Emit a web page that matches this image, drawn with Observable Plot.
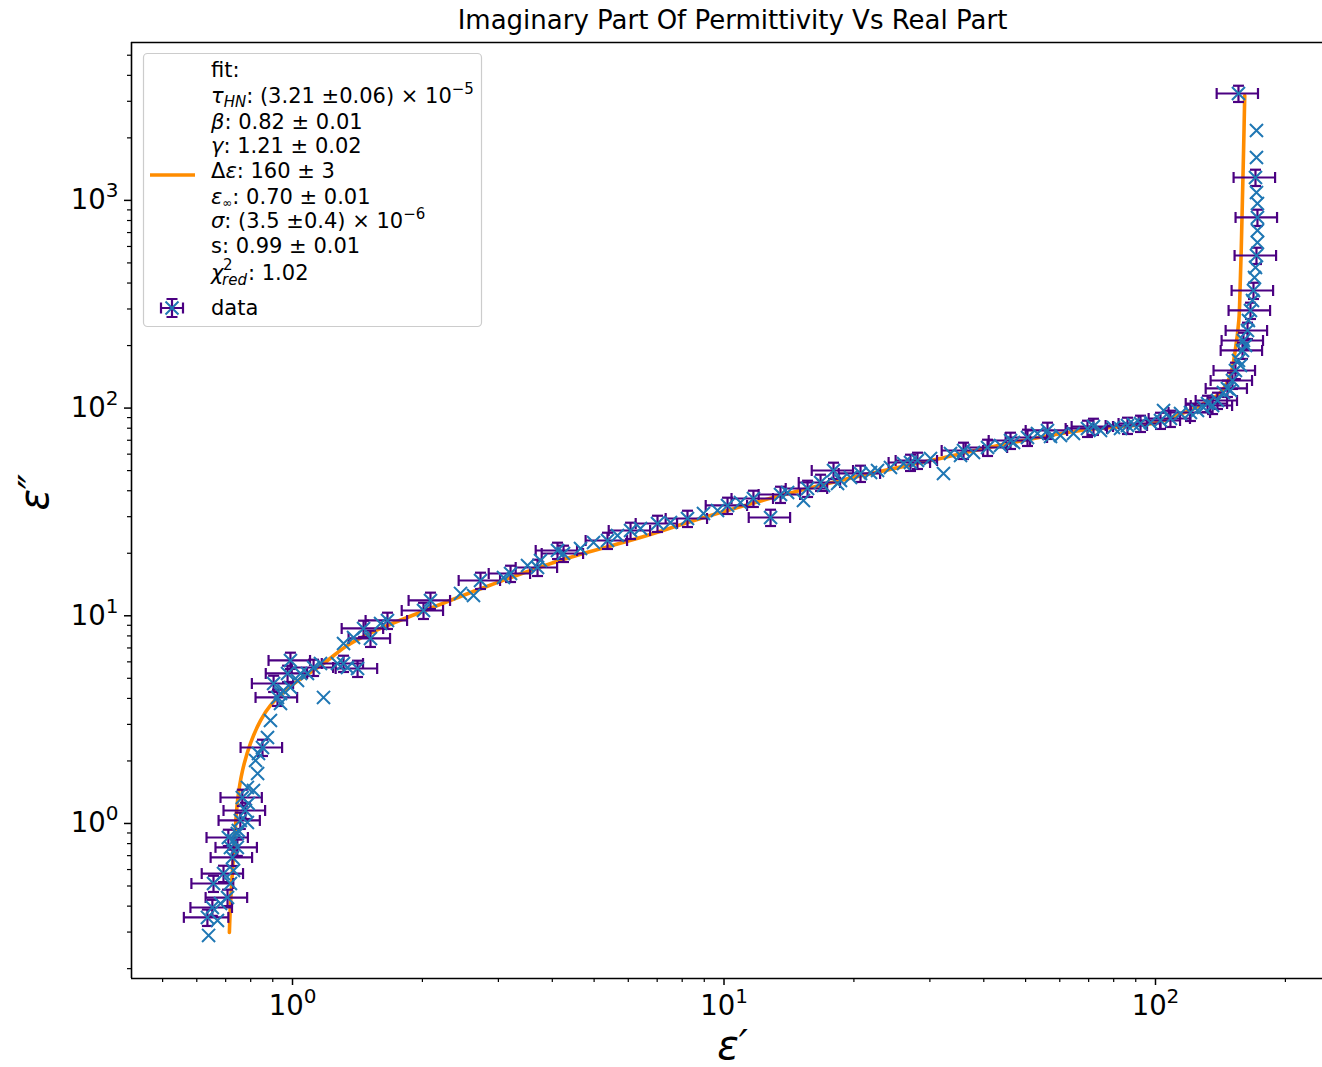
<!DOCTYPE html>
<html><head><meta charset="utf-8">
<script src="https://cdn.jsdelivr.net/npm/d3@7"></script>
<script src="https://cdn.jsdelivr.net/npm/@observablehq/plot@0.6"></script>
<style>
body{margin:0;background:#fff;}
#wrap{width:1322px;height:1067px;font-family:"DejaVu Sans",sans-serif;}
</style></head>
<body><div id="wrap"></div>
<script>
// ---- data ----
const epsReal = [
0.639,0.635,0.670,0.652,0.681,0.707,0.656,0.718,0.692,0.730,
0.726,0.745,0.730,0.710,0.749,0.718,0.757,0.745,0.786,0.778,
0.790,0.765,0.812,0.786,0.830,0.821,0.852,0.834,0.875,0.889,
0.938,0.923,0.938,0.953,0.904,0.989,1.027,0.974,0.989,1.044,
1.083,1.119,1.161,1.180,1.271,1.313,1.341,1.415,1.313,1.385,
1.461,1.516,1.600,1.660,2.012,2.088,2.451,2.627,2.727,3.083,
3.201,3.505,3.697,3.757,4.113,4.247,4.650,4.985,5.370,5.665,
6.073,6.405,7.013,7.516,8.230,8.963,9.659,10.19,10.92,11.70,
12.82,14.04,15.28,15.62,17.01,17.94,18.33,18.62,19.64,20.72,
22.69,24.31,26.07,28.08,30.10,32.26,33.49,35.90,37.86,40.81,
43.74,46.88,50.51,53.28,56.20,60.23,64.55,69.56,74.56,79.91,
86.11,92.31,97.37,104.4,108.3,114.3,120.5,129.2,132.0,139.2,
143.7,146.8,150.8,153.2,155.7,159.1,159.9,163.4,164.2,166.0,
167.8,168.7,169.6,170.5,171.4,172.3,172.3,172.3,172.3,171.4,
170.5,171.4,171.4,155.7,
71.82,82.96,88.93,102.7,125.1,135.6,149.2,157.4,161.7,57.11,46.13,35.33,27.05,21.86,16.74,13.52];

const epsImag = [
0.289,0.353,0.341,0.394,0.412,0.440,0.514,0.514,0.574,0.594,
0.686,0.767,0.828,0.856,0.925,0.767,1.034,0.895,1.011,1.155,
1.248,1.334,1.442,1.491,1.741,2.011,2.322,2.173,2.594,3.132,
3.783,4.044,4.226,4.369,4.721,4.517,4.880,5.275,6.093,5.275,
5.275,5.637,5.893,4.044,5.893,5.893,5.637,5.575,7.355,7.863,
8.687,7.777,9.183,9.493,10.60,11.85,12.81,12.52,14.79,15.29,
15.98,17.46,17.08,18.46,20.62,19.95,21.09,22.54,23.04,24.36,
25.74,26.33,27.82,28.13,29.40,31.09,32.14,33.97,35.12,36.71,
29.73,39.23,35.91,41.01,42.40,50.07,43.35,44.82,46.34,48.44,
50.07,51.76,54.11,55.94,57.19,48.44,60.45,62.50,61.13,64.61,
66.06,68.30,72.19,75.46,78.02,73.81,75.46,79.77,78.02,80.66,
82.46,84.31,85.25,97.37,89.11,94.20,95.24,100.7,105.2,108.8,
118.9,124.3,135.8,151.7,169.5,189.4,211.5,236.4,264.1,295.1,
329.6,368.3,425.4,475.3,542.8,627.1,716.2,827.5,966.2,1091,
1289,1609,2170,3271,
81.55,79.77,83.38,87.15,97.37,102.9,121.6,160.3,200.2,72.99,69.82,59.13,54.71,48.97,43.83,38.37];

const errReal = [
0,0.075,0,0.072,0,0.078,0.073,0,0.076,0,
0.080,0.082,0,0.078,0,0,0.083,0,0,0.086,
0,0.084,0,0,0,0,0.094,0,0,0,
0,0.102,0,0,0.099,0,0,0.107,0.109,0,
0,0.123,0,0,0,0.144,0,0.156,0,0,
0.161,0.167,0,0.183,0.221,0.230,0,0,0.300,0,
0.352,0,0.407,0,0.452,0.467,0,0,0.591,0,
0.668,0,0.771,0,0.905,0,0,1.12,0,1.29,
1.41,0,0,1.72,0,1.97,0,0,0,2.28,
0,0,0,3.09,0,0,0,3.95,0,4.49,
0,0,5.56,0,6.18,0,0,7.65,0,0,
9.47,10.2,0,0,11.9,0,13.3,0,14.5,15.3,
0,16.1,16.6,16.9,0,17.5,17.6,18.0,0,18.3,
0,18.6,0,0,18.9,0,0,19.0,0,0,
18.8,0,0,17.1,
7.9,0,0,11.3,0,14.9,0,0,0,0,5.07,0,2.98,0,1.84,1.49];

const errImag = [
0,0.032,0,0.035,0,0.040,0.046,0,0.052,0,
0.062,0.069,0,0.077,0,0,0.093,0,0,0.104,
0,0.120,0,0,0,0,0.209,0,0,0,
0,0.364,0,0,0.425,0,0,0.475,0.548,0,
0,0.507,0,0,0,0.530,0,0.502,0,0,
0.782,0.700,0,0.854,0.95,1.07,0,0,1.33,0,
1.44,0,1.54,0,1.86,1.80,0,0,2.07,0,
2.32,0,2.50,0,2.65,0,0,3.06,0,3.30,
2.68,0,0,3.69,0,4.51,0,0,0,4.36,
0,0,0,5.03,0,0,0,5.63,0,5.81,
0,0,6.50,0,7.02,0,0,7.18,0,0,
7.42,7.59,0,0,8.02,0,8.57,0,9.47,9.79,
0,11.2,12.2,13.7,0,17.0,19.0,21.3,0,26.6,
0,33.1,0,0,48.9,0,0,74.5,0,0,
116,0,0,294,
7.3,0,0,7.8,0,9.3,0,0,0,0,6.28,0,4.92,0,3.94,3.45];

// fit curve
const fitReal = [0.714,0.718,0.726,0.734,0.746,0.766,0.799,0.843,0.889,0.989,1.18,1.34,1.60,1.98,2.73,4.18,6.40,8.82,13.0,18.6,30.1,45.4,67.0,101,114,127,141.5,149,153,156,157,158,159,160,161];
const fitImag = [0.299,0.403,0.594,0.828,1.29,1.80,2.43,3.13,3.70,4.57,5.89,7.19,8.69,10.4,13.5,18.5,23.8,29.4,37.1,44.8,55.9,67.5,78.0,85.3,93.2,103,119,143,189,264,368,574,999,1738,3200];

// axes
const xDomain = [0.4235, 243.8];
const yDomain = [0.1793, 5757];
const xMajor = [1, 10, 100];
const xMajorExp = ["0", "1", "2"];
const xMinor = [0.5,0.6,0.7,0.8,0.9,2,3,4,5,6,7,8,9,20,30,40,50,60,70,80,90,200];
const yMajor = [1, 10, 100, 1000];
const yMajorExp = ["0", "1", "2", "3"];
const yMinor = [0.2,0.3,0.4,0.5,0.6,0.7,0.8,0.9,2,3,4,5,6,7,8,9,20,30,40,50,60,70,80,90,200,300,400,500,600,700,800,900,2000,3000,4000,5000];

const titleText = "Imaginary Part Of Permittivity Vs Real Part";

// ---- build tables ----
const points = epsReal.map((x, i) => ({x, y: epsImag[i], ex: errReal[i], ey: errImag[i]}));
const bars = points.filter(d => d.ex > 0);
const fit = fitReal.map((x, i) => ({x, y: fitImag[i]}));

const capV = {draw(ctx, size){ const h = Math.sqrt(size/Math.PI); ctx.moveTo(0,-h); ctx.lineTo(0,h); }};
const capH = {draw(ctx, size){ const h = Math.sqrt(size/Math.PI); ctx.moveTo(-h,0); ctx.lineTo(h,0); }};

const barColor = "#4b0082";
const markColor = "#1f77b4";
const fitColor = "#ff8c00";

const chart = Plot.plot({
  width: 1322, height: 1067,
  marginLeft: 131, marginRight: 0, marginTop: 42, marginBottom: 89,
  x: {type: "log", domain: xDomain},
  y: {type: "log", domain: yDomain},
  style: {fontFamily: "DejaVu Sans", background: "white", color: "black"},
  marks: [
    Plot.line(fit, {x: "x", y: "y", stroke: fitColor, strokeWidth: 3.6, curve: "catmull-rom"}),
    Plot.link(bars, {x1: d => d.x - d.ex, x2: d => d.x + d.ex, y1: "y", y2: "y", stroke: barColor, strokeWidth: 2.2}),
    Plot.link(bars, {x1: "x", x2: "x", y1: d => d.y - d.ey, y2: d => d.y + d.ey, stroke: barColor, strokeWidth: 2.2}),
    Plot.dot(bars, {x: d => d.x - d.ex, y: "y", symbol: capV, r: 5.5, stroke: barColor, strokeWidth: 2.2}),
    Plot.dot(bars, {x: d => d.x + d.ex, y: "y", symbol: capV, r: 5.5, stroke: barColor, strokeWidth: 2.2}),
    Plot.dot(bars, {x: "x", y: d => d.y - d.ey, symbol: capH, r: 5.5, stroke: barColor, strokeWidth: 2.2}),
    Plot.dot(bars, {x: "x", y: d => d.y + d.ey, symbol: capH, r: 5.5, stroke: barColor, strokeWidth: 2.2}),
    Plot.dot(points, {x: "x", y: "y", symbol: "times", r: 6, stroke: markColor, strokeWidth: 2}),
    // axes
    Plot.axisX({ticks: xMajor, tickFormat: d => "10^" + xMajorExp[xMajor.indexOf(d)], fontSize: 27.5, tickSize: 7, tickPadding: 10, label: null, strokeWidth: 1.5}),
    Plot.axisX({ticks: xMinor, tickFormat: () => "", tickSize: 4, label: null, strokeWidth: 1.2}),
    Plot.axisY({ticks: yMajor, tickFormat: d => "10^" + yMajorExp[yMajor.indexOf(d)], fontSize: 27.5, tickSize: 7, tickPadding: 6, label: null, strokeWidth: 1.5}),
    Plot.axisY({ticks: yMinor, tickFormat: () => "", tickSize: 4, label: null, strokeWidth: 1.2}),
    // spines
    Plot.ruleY([yDomain[0], yDomain[1]], {stroke: "black", strokeWidth: 1.6}),
    Plot.ruleX([xDomain[0]], {stroke: "black", strokeWidth: 1.6}),
    // title and axis labels
    Plot.text([titleText], {text: d => d, frameAnchor: "top", lineAnchor: "middle", dx: 5.5, dy: -22, fontSize: 26, fill: "black"}),
    Plot.text(["ε′"], {text: d => d, frameAnchor: "bottom", lineAnchor: "middle", dx: 5.5, dy: 68, fontSize: 40, fontStyle: "italic", fill: "black"}),
    Plot.text(["ε″"], {text: d => d, frameAnchor: "left", lineAnchor: "middle", dx: -96, rotate: -90, fontSize: 40, fontStyle: "italic", fill: "black"})
  ]
});

const svg = d3.select(chart);

// superscript exponents in tick labels (10^n)
svg.selectAll("text").each(function(){
  const el = d3.select(this);
  const s = el.text();
  const m = /^10\^(\d)$/.exec(s);
  if (!m) return;
  el.text("");
  el.append("tspan").text("10");
  el.append("tspan").attr("dy", -12).attr("font-size", 20).text(m[1]);
});

// ---- legend ----
const lg = svg.append("g").attr("font-family", "DejaVu Sans").attr("font-size", 21)
  .attr("fill", "black").attr("text-anchor", "start");
lg.append("rect").attr("x", 143.5).attr("y", 53.5).attr("width", 338).attr("height", 273).attr("rx", 4)
  .attr("fill", "white").attr("fill-opacity", 0.8).attr("stroke", "#cccccc").attr("stroke-width", 1.2);

function line(y, parts){
  const t = lg.append("text").attr("x", 211).attr("y", y);
  parts.forEach(p => {
    const s = t.append("tspan").text(p.t);
    if (p.i) s.attr("font-style", "italic");
    if (p.s) s.attr("font-size", p.s);
    if (p.dy) s.attr("dy", p.dy);
    if (p.x != null) s.attr("x", p.x);
  });
}
line(77, [{t: "fit:"}]);
line(103, [{t: "τ", i: 1}, {t: "HN", i: 1, s: 15, dy: 4}, {t: ": (3.21 ±0.06) × 10", dy: -4}, {t: "−5", s: 15, dy: -9}]);
line(129, [{t: "β", i: 1}, {t: ": 0.82 ± 0.01"}]);
line(153, [{t: "γ", i: 1}, {t: ": 1.21 ± 0.02"}]);
line(178, [{t: "Δ"}, {t: "ε", i: 1}, {t: ": 160 ± 3"}]);
line(204, [{t: "ε", i: 1}, {t: "∞", s: 12, dy: 3}, {t: ": 0.70 ± 0.01", dy: -3}]);
line(228, [{t: "σ", i: 1}, {t: ": (3.5 ±0.4) × 10"}, {t: "−6", s: 15, dy: -9}]);
line(253, [{t: "s: 0.99 ± 0.01"}]);
line(280, [{t: "χ", i: 1}, {t: "2", s: 15, dy: -10, x: 223}, {t: "red", i: 1, s: 15, dy: 15, x: 222}, {t: ": 1.02", dy: -5, x: 248}]);
line(315, [{t: "data"}]);

// legend handles
lg.append("line").attr("x1", 150).attr("x2", 195).attr("y1", 175).attr("y2", 175).attr("stroke", fitColor).attr("stroke-width", 3.6);
const hx = 172, hy = 308;
const hg = lg.append("g").attr("stroke", barColor).attr("stroke-width", 2.2).attr("fill", "none");
hg.append("path").attr("d", `M${hx-11},${hy}H${hx+11}M${hx-11},${hy-5.5}V${hy+5.5}M${hx+11},${hy-5.5}V${hy+5.5}M${hx},${hy-9}V${hy+9}M${hx-5.5},${hy-9}H${hx+5.5}M${hx-5.5},${hy+9}H${hx+5.5}`);
lg.append("path").attr("d", `M${hx-6.5},${hy-6.5}L${hx+6.5},${hy+6.5}M${hx-6.5},${hy+6.5}L${hx+6.5},${hy-6.5}`).attr("stroke", markColor).attr("stroke-width", 2).attr("fill", "none");

document.getElementById("wrap").appendChild(chart);
</script>
</body></html>
